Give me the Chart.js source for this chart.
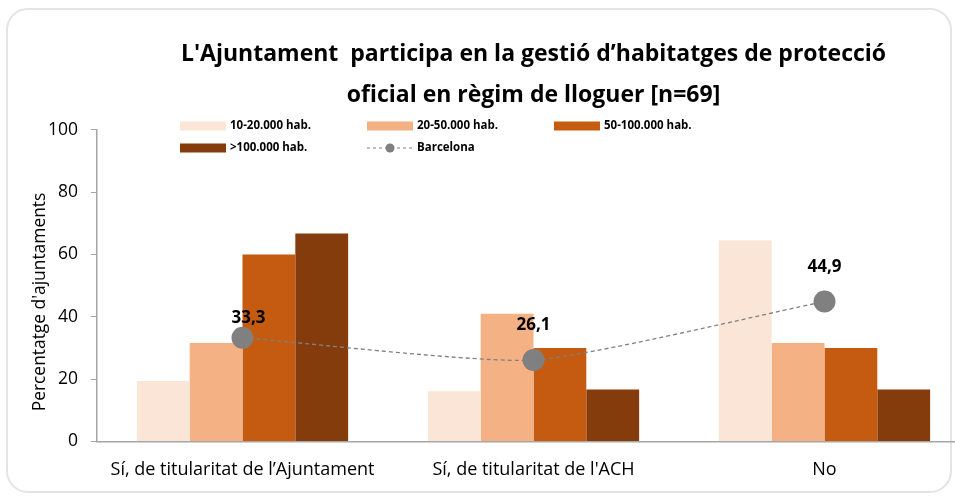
<!DOCTYPE html>
<html>
<head>
<meta charset="utf-8">
<script src="https://cdn.jsdelivr.net/npm/chart.js@4.4.0/dist/chart.umd.min.js"></script>
<style>
  html, body { margin: 0; padding: 0; overflow: hidden; background: #fff; }
  #marc { position: absolute; left: 6px; top: 8px; width: 942px; height: 481px; border: 2px solid #e4e4e4; border-radius: 22px; }
  #grafic { position: absolute; left: 0; top: 0; }
</style>
</head>
<body>
<div id="marc"></div>
<canvas id="grafic" width="981" height="497"></canvas>
<script>
// dades
const categories = ["Sí, de titularitat de l’Ajuntament", "Sí, de titularitat de l'ACH", "No"];
const hab10_20 = [19.4, 16.1, 64.5];
const hab20_50 = [31.6, 41.0, 31.6];
const hab50_100 = [60.0, 30.0, 30.0];
const hab100 = [66.7, 16.7, 16.7];
const barcelona = [33.3, 26.1, 44.9];
const yTicks = [0, 20, 40, 60, 80, 100];

const FONT = "'Open Sans', sans-serif";

// llegenda i etiquetes dibuixades a ma
const extres = {
  id: "extres",
  afterDraw(chart) {
    const ctx = chart.ctx;
    ctx.save();

    // etiquetes Barcelona
    const meta = chart.getDatasetMeta(4);
    const dx = [6, 0, 0];
    const dy = [20, 35, 34];
    ctx.font = "bold 17px " + FONT;
    ctx.fillStyle = "#000";
    ctx.textAlign = "center";
    ctx.textBaseline = "middle";
    meta.data.forEach((pt, i) => {
      ctx.fillText(barcelona[i].toFixed(1).replace(".", ","), pt.x + dx[i], pt.y - dy[i]);
    });

    // titol eix y
    ctx.save();
    ctx.translate(40, 302);
    ctx.rotate(-Math.PI / 2);
    ctx.font = "17.4px " + FONT;
    ctx.fillText("Percentatge d'ajuntaments", 0, 0);
    ctx.restore();

    // llegenda
    const cols = [180, 367, 554];
    const rows = [126, 148];
    ctx.font = "bold 11.5px " + FONT;
    ctx.textAlign = "left";
    chart.data.datasets.forEach((ds, i) => {
      const x = cols[i % 3];
      const y = rows[Math.floor(i / 3)];
      if (ds.type === "line") {
        ctx.strokeStyle = ds.borderColor;
        ctx.lineWidth = 1.2;
        ctx.setLineDash([3, 3]);
        ctx.beginPath();
        ctx.moveTo(x, y);
        ctx.lineTo(x + 46, y);
        ctx.stroke();
        ctx.setLineDash([]);
        ctx.fillStyle = ds.backgroundColor;
        ctx.beginPath();
        ctx.arc(x + 23, y, 4.5, 0, Math.PI * 2);
        ctx.fill();
      } else {
        ctx.fillStyle = ds.backgroundColor;
        ctx.fillRect(x, y - 4.5, 46, 9);
      }
      ctx.fillStyle = "#000";
      ctx.fillText(ds.label, x + 50, y);
    });
    ctx.restore();
  }
};

new Chart("grafic", {
  type: "bar",
  data: {
    labels: categories,
    datasets: [
      { label: "10-20.000 hab.", data: hab10_20, backgroundColor: "#FBE5D6", order: 1 },
      { label: "20-50.000 hab.", data: hab20_50, backgroundColor: "#F4B183", order: 1 },
      { label: "50-100.000 hab.", data: hab50_100, backgroundColor: "#C55A11", order: 1 },
      { label: ">100.000 hab.", data: hab100, backgroundColor: "#843C0C", order: 1 },
      {
        type: "line",
        label: "Barcelona",
        data: barcelona,
        borderColor: "#808080",
        backgroundColor: "#808080",
        borderWidth: 1.3,
        borderDash: [4, 3],
        tension: 0.18,
        pointRadius: 11,
        pointHoverRadius: 11,
        pointBorderWidth: 0,
        order: 0,
      },
    ],
  },
  options: {
    responsive: false,
    animation: false,
    layout: { padding: { left: 0, right: 4, top: 0, bottom: 6 } },
    datasets: { bar: { barPercentage: 1, categoryPercentage: 0.726 } },
    plugins: {
      legend: { display: false },
      tooltip: { enabled: false },
      title: {
        display: true,
        fullSize: false,
        text: ["L'Ajuntament  participa en la gestió d’habitatges de protecció", "oficial en règim de lloguer [n=69]"],
        color: "#000",
        font: { family: FONT, size: 23, weight: "bold", lineHeight: 1.78 },
        padding: { top: 34, bottom: 14 },
      },
    },
    scales: {
      x: {
        grid: { display: false },
        border: { color: "#a6a6a6", width: 1.5 },
        ticks: { color: "#000", font: { family: FONT, size: 18 }, padding: 10 },
      },
      y: {
        min: 0,
        max: 100,
        afterBuildTicks: (s) => { s.ticks = yTicks.map((v) => ({ value: v })); },
        afterFit: (s) => { s.width = 97; },
        grid: { drawOnChartArea: false, tickLength: 6, color: "#a6a6a6" },
        border: { color: "#a6a6a6", width: 1.5 },
        ticks: { color: "#000", font: { family: FONT, size: 17.5 }, padding: 13 },
      },
    },
  },
  plugins: [extres],
});
</script>
</body>
</html>
